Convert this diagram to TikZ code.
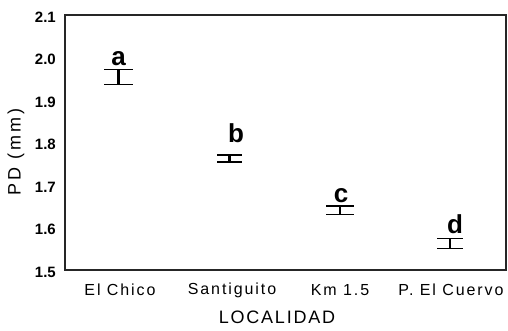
\documentclass[tikz,border=0pt]{standalone}
\usepackage{fontspec}
\setmainfont{Liberation Sans}
\newfontfamily\spacedC[LetterSpace=12]{Liberation Sans}
\newfontfamily\spacedX[LetterSpace=10]{Liberation Sans}
\newfontfamily\spacedY[LetterSpace=16]{Liberation Sans}
\tikzset{
  frame/.style={line width=2pt, black!85},
  capline/.style={line width=1.6pt, black},
  stem/.style={line width=2.6pt, black},
  ticklab/.style={anchor=east, inner sep=0pt, font=\fontsize{15}{15}\selectfont\bfseries},
  catlab/.style={inner sep=0pt, font=\fontsize{16}{16}\selectfont\spacedC},
  xtitle/.style={inner sep=0pt, font=\fontsize{18}{18}\selectfont\spacedX},
  ytitle/.style={inner sep=0pt, font=\fontsize{18}{18}\selectfont\spacedY},
  grp/.style={inner sep=0pt, anchor=base, font=\fontsize{26}{26}\selectfont\bfseries},
}
\begin{document}
\begin{tikzpicture}[x=1pt,y=-1pt]
\useasboundingbox (0,0) rectangle (508,330);
% plot frame
\coordinate (tl) at (65,15);
\coordinate (br) at (506,270);
\draw[frame] (tl) rectangle (br);
% y tick labels
\node[ticklab] (t21) at (56,17) {2.1};
\node[ticklab] (t20) at (56,59.5) {2.0};
\node[ticklab] (t19) at (56,102) {1.9};
\node[ticklab] (t18) at (56,144.5) {1.8};
\node[ticklab] (t17) at (56,187) {1.7};
\node[ticklab] (t16) at (56,229.5) {1.6};
\node[ticklab] (t15) at (56,272) {1.5};
% error bars
% a
\coordinate (a1) at (118.5,69.5);
\coordinate (a2) at (118.5,84.5);
\draw[stem] (a1) -- (a2);
\draw[capline] (104,69.5) -- (133,69.5);
\draw[capline] (104,84.5) -- (133,84.5);
\node[grp] (la) at (118.5,65.5) {a};
% b
\coordinate (b1) at (229.5,155);
\coordinate (b2) at (229.5,162);
\draw[stem] (b1) -- (b2);
\draw[capline] (217,155) -- (242,155);
\draw[capline] (217,162) -- (242,162);
\node[grp] (lb) at (236,142) {b};
% c
\coordinate (c1) at (340,206);
\coordinate (c2) at (340,214.5);
\draw[stem] (c1) -- (c2);
\draw[capline] (326,206) -- (354,206);
\draw[capline] (326,214.5) -- (354,214.5);
\node[grp] (lc) at (341,202) {c};
% d
\coordinate (d1) at (450,238.5);
\coordinate (d2) at (450,248.5);
\draw[stem] (d1) -- (d2);
\draw[capline] (437,238.5) -- (463,238.5);
\draw[capline] (437,248.5) -- (463,248.5);
\node[grp] (ld) at (455,233) {d};
% category labels
\node[catlab] (x1) at (120,290) {El Chico};
\node[catlab] (x2) at (232,290) {Santiguito};
\node[catlab] (x3) at (340,290) {Km 1.5};
\node[catlab] (x4) at (451,290) {P. El Cuervo};
% axis titles
\node[xtitle] (xt) at (277,317) {LOCALIDAD};
\node[ytitle, rotate=90] (yt) at (16,152) {PD (mm)};
\end{tikzpicture}
\end{document}
